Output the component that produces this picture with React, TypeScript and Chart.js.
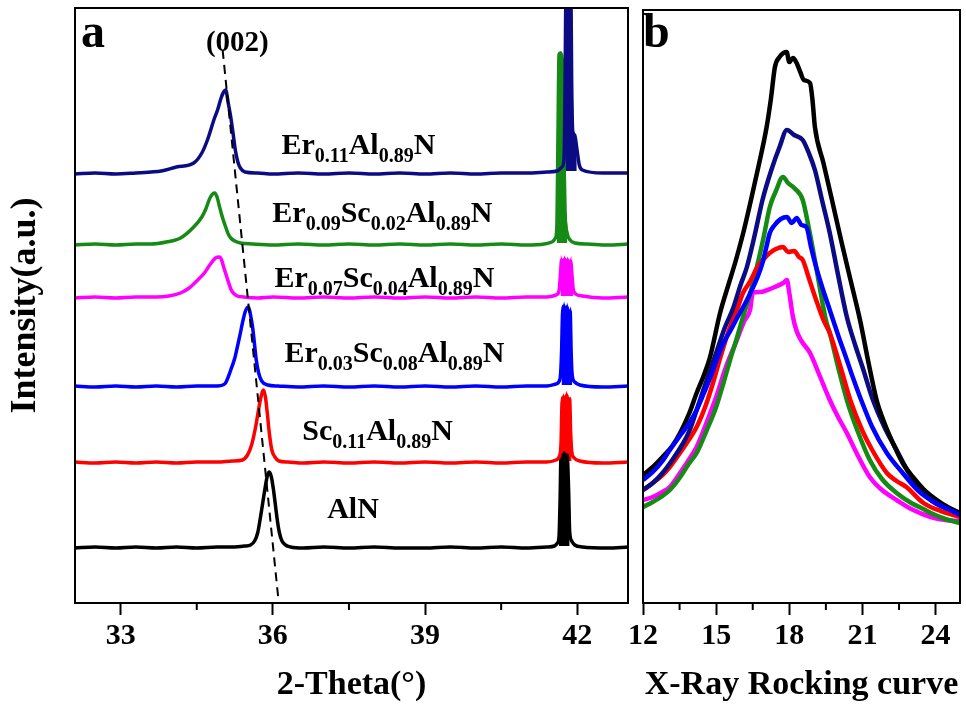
import React, { useEffect, useRef } from "react";
import { Chart, registerables } from "chart.js";
Chart.register(...registerables);

const SERIF = "'Liberation Serif', 'Times New Roman', Times, serif";

// ---------- Panel a : XRD 2-theta scans (stacked, a.u.) ----------
const xrdRange = [32.1, 43.0];
const xrdMajorTicks = [33, 36, 39, 42];
const xrdMinorTicks = [34.5, 37.5, 40.5];

const alnXrd = [[32.1,55],[32.5,56],[32.9,55],[33.3,56],[33.7,55],[34.1,56],[34.5,55],[34.9,56],[35.2,56],[35.45,57],[35.56,58],[35.64,62],[35.7,70],[35.75,84],[35.8,100],[35.85,116],[35.89,127],[35.93,131],[35.97,126],[36.01,114],[36.05,98],[36.09,82],[36.13,70],[36.18,62],[36.25,58],[36.35,56],[36.6,55],[37.0,56],[37.5,55],[38.0,56],[38.5,55],[39.0,55],[39.5,56],[40.0,55],[40.5,56],[41.0,55],[41.4,56],[41.55,57],[41.61,60],[41.64,66],[41.66,100],[41.68,148],[41.71,140],[41.74,150],[41.77,142],[41.8,148],[41.83,112],[41.85,72],[41.89,62],[41.95,58],[42.1,56],[42.6,55],[43.0,56]];
const scAlnXrd = [[32.1,141],[32.5,140],[32.9,141],[33.3,140],[33.7,141],[34.1,140],[34.5,141],[34.9,141],[35.2,142],[35.4,143],[35.5,148],[35.58,158],[35.66,176],[35.72,194],[35.77,207],[35.81,213],[35.85,207],[35.89,190],[35.93,170],[35.98,153],[36.04,146],[36.12,142],[36.3,141],[36.6,140],[37.0,141],[37.5,140],[38.0,141],[38.5,140],[39.0,141],[39.5,140],[40.0,141],[40.5,140],[41.0,141],[41.4,141],[41.58,143],[41.65,147],[41.68,160],[41.7,200],[41.73,206],[41.76,200],[41.79,208],[41.82,202],[41.85,204],[41.87,170],[41.89,152],[41.94,145],[42.05,142],[42.5,140],[43.0,141]];
const er03Xrd = [[32.1,217],[32.5,216],[32.9,217],[33.3,216],[33.7,217],[34.1,216],[34.5,217],[34.9,217],[35.05,219],[35.17,233],[35.25,245],[35.3,256],[35.36,270],[35.4,280],[35.46,292],[35.52,296],[35.56,288],[35.6,276],[35.64,258],[35.67,244],[35.72,230],[35.78,222],[35.9,218],[36.1,217],[36.5,216],[37.0,217],[37.5,216],[38.0,217],[38.5,216],[39.0,217],[39.5,216],[40.0,217],[40.5,216],[41.0,217],[41.4,217],[41.58,219],[41.66,224],[41.69,250],[41.71,290],[41.74,297],[41.77,290],[41.8,296],[41.83,288],[41.86,292],[41.88,250],[41.9,228],[41.95,221],[42.05,218],[42.5,216],[43.0,217]];
const er07Xrd = [[32.1,305],[32.5,306],[32.9,305],[33.3,306],[33.7,306],[33.95,307],[34.18,310],[34.35,315],[34.52,323],[34.65,330],[34.73,336],[34.8,341],[34.87,345],[34.95,346],[34.99,343],[35.03,336],[35.08,328],[35.13,320],[35.18,313],[35.22,310],[35.3,307],[35.42,306],[35.7,305],[36.0,306],[36.5,305],[37.0,306],[37.5,305],[38.0,306],[38.5,305],[39.0,306],[39.5,305],[40.0,306],[40.5,305],[41.0,306],[41.4,306],[41.58,308],[41.64,312],[41.67,330],[41.69,343],[41.72,338],[41.75,344],[41.78,338],[41.81,343],[41.84,337],[41.87,342],[41.9,325],[41.92,314],[41.97,309],[42.1,307],[42.5,305],[43.0,306]];
const er09Xrd = [[32.1,358],[32.5,359],[32.9,358],[33.3,359],[33.6,359],[33.9,361],[34.18,365],[34.44,376],[34.6,386],[34.67,393],[34.77,406],[34.85,410],[34.9,406],[34.95,396],[35.01,385],[35.07,376],[35.12,369],[35.17,365],[35.25,362],[35.36,360],[35.6,359],[36.0,358],[36.5,359],[37.0,358],[37.5,359],[38.0,358],[38.5,359],[39.0,358],[39.5,359],[40.0,358],[40.5,359],[41.0,358],[41.35,359],[41.5,361],[41.57,365],[41.6,380],[41.62,470],[41.64,548],[41.67,550],[41.7,545],[41.72,520],[41.74,440],[41.76,390],[41.8,370],[41.86,363],[41.95,360],[42.2,359],[42.6,358],[43.0,359]];
const er11Xrd = [[32.1,429],[32.5,430],[32.9,429],[33.3,430],[33.6,431],[33.8,432],[34.1,436],[34.44,440],[34.6,450],[34.71,463],[34.85,485],[34.91,493],[34.98,505],[35.03,511],[35.07,513],[35.12,500],[35.17,486],[35.22,468],[35.26,453],[35.31,441],[35.36,435],[35.45,431],[35.7,430],[36.0,429],[36.5,430],[37.0,429],[37.5,430],[38.0,429],[38.5,430],[39.0,429],[39.5,430],[40.0,429],[40.5,430],[41.0,430],[41.4,431],[41.6,432],[41.7,436],[41.74,445],[41.76,520],[41.78,640],[41.81,660],[41.84,650],[41.87,640],[41.89,520],[41.91,472],[41.95,468],[41.99,455],[42.04,438],[42.1,433],[42.5,430],[43.0,430]];

const xrdSeries = [er11Xrd, er09Xrd, er07Xrd, er03Xrd, scAlnXrd, alnXrd];
const xrdBaselines = [430, 358, 305, 216, 140, 55];
const sampleColors = ["#0b0b84", "#158a15", "#ff00ff", "#0000ff", "#ff0000", "#000000"];

// dashed guide through the (002) peaks
const guideX = [35.01, 36.11];
const guideY = [553, 3];

const xrdLabels = [
  { x: 36.17, y: 449, parts: [["Er", 0], ["0.11", 1], ["Al", 0], ["0.89", 1], ["N", 0]] },
  { x: 35.99, y: 381, parts: [["Er", 0], ["0.09", 1], ["Sc", 0], ["0.02", 1], ["Al", 0], ["0.89", 1], ["N", 0]] },
  { x: 36.03, y: 316, parts: [["Er", 0], ["0.07", 1], ["Sc", 0], ["0.04", 1], ["Al", 0], ["0.89", 1], ["N", 0]] },
  { x: 36.23, y: 241, parts: [["Er", 0], ["0.03", 1], ["Sc", 0], ["0.08", 1], ["Al", 0], ["0.89", 1], ["N", 0]] },
  { x: 36.58, y: 163, parts: [["Sc", 0], ["0.11", 1], ["Al", 0], ["0.89", 1], ["N", 0]] },
  { x: 37.07, y: 85, parts: [["AlN", 0]] },
];
const peakLabel = { x: 35.3, y: 552, text: "(002)" };

// ---------- Panel b : X-ray rocking curves ----------
const rockRange = [12, 25];
const rockMajorTicks = [12, 15, 18, 21, 24];
const rockMinorTicks = [13.5, 16.5, 19.5, 22.5];

const rockBlack = [[12.0,128],[12.4,136],[12.8,146],[13.2,157],[13.52,170],[13.9,190],[14.2,210],[14.5,228],[14.75,246],[15.16,290],[15.5,318],[15.8,342],[16.11,370],[16.4,400],[16.73,436],[17.07,476],[17.25,505],[17.41,536],[17.6,546],[17.89,551],[18.0,541],[18.15,545],[18.3,540],[18.45,531],[18.6,523],[18.85,520],[18.95,503],[19.05,476],[19.4,440],[19.75,403],[20.15,360],[20.54,320],[20.9,283],[21.25,240],[21.58,203],[21.9,180],[22.25,160],[22.65,140],[23.07,126],[23.5,114],[24.05,103],[24.5,96],[25.0,90]];
const rockNavy = [[12.0,113],[12.4,120],[12.8,130],[13.2,143],[13.6,158],[13.9,172],[14.2,193],[14.6,222],[15.0,250],[15.35,275],[15.7,295],[16.0,318],[16.26,336],[16.6,370],[16.9,403],[17.25,432],[17.6,456],[17.9,473],[18.2,468],[18.55,463],[18.8,450],[19.05,433],[19.35,402],[19.66,370],[20.0,328],[20.36,286],[20.7,258],[21.0,236],[21.4,205],[21.9,176],[22.4,153],[22.9,130],[23.3,116],[23.8,103],[24.3,96],[25.0,90]];
const rockGreen = [[12.0,96],[12.4,101],[12.8,107],[13.1,113],[13.5,125],[13.9,140],[14.2,150],[14.6,172],[15.0,196],[15.3,220],[15.57,243],[15.85,265],[16.1,286],[16.4,310],[16.67,336],[16.95,366],[17.2,396],[17.45,412],[17.74,426],[17.95,420],[18.2,415],[18.55,403],[18.8,375],[19.1,336],[19.5,283],[19.66,270],[20.0,236],[20.36,203],[20.8,172],[21.3,143],[21.8,124],[22.4,110],[23.0,100],[23.5,94],[23.8,90],[24.4,84],[25.0,80]];
const rockBlue = [[12.0,123],[12.4,131],[12.8,142],[13.1,153],[13.6,170],[13.9,180],[14.2,193],[14.5,210],[14.8,228],[15.05,245],[15.3,260],[15.6,273],[15.9,287],[16.2,300],[16.5,315],[16.7,326],[16.9,340],[17.05,355],[17.2,370],[17.4,378],[17.65,384],[17.9,386],[18.1,380],[18.3,385],[18.5,378],[18.7,376],[18.9,355],[19.1,336],[19.4,312],[19.66,293],[20.0,268],[20.36,243],[20.6,226],[20.9,206],[21.4,176],[22.0,150],[22.65,130],[23.3,112],[24.0,100],[24.5,94],[25.0,88]];
const rockRed = [[12.0,113],[12.4,120],[12.8,128],[13.1,136],[13.6,153],[13.9,164],[14.2,176],[14.55,196],[14.87,220],[15.2,248],[15.57,276],[15.85,293],[16.1,310],[16.4,322],[16.67,335],[16.95,344],[17.2,350],[17.45,354],[17.74,356],[17.95,351],[18.2,352],[18.4,346],[18.55,343],[18.8,325],[19.1,303],[19.4,283],[19.66,270],[20.1,236],[20.5,203],[21.0,172],[21.4,153],[22.0,130],[22.4,122],[22.8,116],[23.5,100],[24.2,92],[25.0,86]];
const rockMagenta = [[12.0,103],[12.4,106],[12.8,111],[13.1,116],[13.6,133],[13.9,144],[14.2,156],[14.6,180],[15.0,206],[15.4,236],[15.85,263],[16.15,282],[16.39,293],[16.5,310],[16.8,311],[17.1,313],[17.4,316],[17.75,320],[17.9,323],[18.0,310],[18.15,286],[18.3,272],[18.5,262],[18.85,250],[19.2,230],[19.66,203],[20.0,186],[20.36,170],[20.8,148],[21.3,126],[21.8,113],[22.4,103],[23.0,94],[23.8,86],[24.4,83],[25.0,82]];

const rockSeries = [rockBlue, rockBlack, rockNavy, rockRed, rockGreen, rockMagenta];
const rockColors = ["#0000ff", "#000000", "#0b0b84", "#ff0000", "#158a15", "#ff00ff"];

const toXY = (pts: number[][]) => pts.map(([x, y]) => ({ x, y }));

const framePlugin = {
  id: "frame",
  afterDraw(chart: any, _args: any, opts: any) {
    const { ctx, chartArea, scales } = chart;
    const { left, top, right, bottom } = chartArea;
    ctx.save();
    ctx.strokeStyle = "#000";
    ctx.lineWidth = 2;
    ctx.strokeRect(left, top, right - left, bottom - top);
    ctx.beginPath();
    for (const v of opts.minor || []) {
      const px = scales.x.getPixelForValue(v);
      ctx.moveTo(px, bottom);
      ctx.lineTo(px, bottom + 7);
    }
    ctx.stroke();
    ctx.fillStyle = "#000";
    ctx.textBaseline = "alphabetic";
    ctx.textAlign = "left";
    ctx.font = `bold 48px ${SERIF}`;
    ctx.fillText(opts.letter, left + opts.letterDx, top + opts.letterDy);
    if (opts.labels) {
      for (const lab of opts.labels) {
        let cx = scales.x.getPixelForValue(lab.x);
        const cy = scales.y.getPixelForValue(lab.y);
        for (const [t, sub] of lab.parts) {
          ctx.font = sub ? `bold 20px ${SERIF}` : `bold 30px ${SERIF}`;
          ctx.fillText(t, cx, cy + (sub ? 8 : 0));
          cx += ctx.measureText(t).width;
        }
      }
    }
    if (opts.peak) {
      ctx.font = `bold 29px ${SERIF}`;
      ctx.textAlign = "center";
      ctx.fillText(opts.peak.text, scales.x.getPixelForValue(opts.peak.x), scales.y.getPixelForValue(opts.peak.y));
    }
    ctx.restore();
  },
};

const tickFont = { family: SERIF, size: 30, weight: "bold" as const };
const titleFont = { family: SERIF, size: 34, weight: "bold" as const };

function xAxis(range: number[], major: number[], title: string) {
  return {
    type: "linear" as const,
    min: range[0],
    max: range[1],
    afterBuildTicks: (s: any) => { s.ticks = major.map((v) => ({ value: v })); },
    afterFit: (s: any) => { s.height = 103; },
    grid: { display: true, drawOnChartArea: false, drawTicks: true, tickLength: 12, tickWidth: 2, tickColor: "#000" },
    border: { display: true, color: "#000", width: 2 },
    ticks: { color: "#000", font: tickFont, padding: 3, maxRotation: 0, autoSkip: false, callback: (v: any) => String(v) },
    title: { display: true, text: title, color: "#000", font: titleFont, padding: { top: 0, bottom: 0 } },
  };
}

export default function App() {
  const refA = useRef<HTMLCanvasElement>(null);
  const refB = useRef<HTMLCanvasElement>(null);

  useEffect(() => {
    const dsA: any[] = [
      {
        data: guideX.map((x, i) => ({ x, y: guideY[i] })),
        borderColor: "#000", borderWidth: 2, borderDash: [9, 6], pointRadius: 0, fill: false,
      },
    ];
    xrdSeries.forEach((s, i) => {
      dsA.push({ data: toXY(s), borderColor: sampleColors[i], borderWidth: 3.5, pointRadius: 0, fill: false, cubicInterpolationMode: "monotone" });
    });
    xrdSeries.forEach((s, i) => {
      const base = xrdBaselines[i];
      dsA.push({
        data: toXY(s.filter((p) => p[0] > 41.5 && p[1] > base + 8)),
        borderColor: sampleColors[i], backgroundColor: sampleColors[i], borderWidth: 2, pointRadius: 0,
        fill: { value: base + 2 }, tension: 0,
      });
    });

    const chartA = new Chart(refA.current!, {
      type: "line",
      data: { datasets: dsA },
      options: {
        responsive: false,
        animation: false,
        layout: { padding: { left: 0, right: 12, top: 8, bottom: 0 } },
        plugins: {
          legend: { display: false },
          tooltip: { enabled: false },
          frame: { minor: xrdMinorTicks, letter: "a", letterDx: 6, letterDy: 39, labels: xrdLabels, peak: peakLabel },
        } as any,
        scales: {
          x: xAxis(xrdRange, xrdMajorTicks, "2-Theta(°)"),
          y: {
            type: "linear", min: 0, max: 595,
            afterFit: (s: any) => { s.width = 75; },
            ticks: { display: false },
            grid: { display: false },
            border: { display: true, color: "#000", width: 2 },
            title: { display: true, text: "Intensity(a.u.)", color: "#000", font: { family: SERIF, size: 36, weight: "bold" }, padding: { top: 4, bottom: 0 } },
          },
        },
      } as any,
      plugins: [framePlugin],
    });

    const dsB = rockSeries.map((s, i) => ({
      data: toXY(s), borderColor: rockColors[i], borderWidth: 4.5, pointRadius: 0, fill: false, cubicInterpolationMode: "monotone",
    }));
    const chartB = new Chart(refB.current!, {
      type: "line",
      data: { datasets: dsB },
      options: {
        responsive: false,
        animation: false,
        layout: { padding: { left: 43, right: 6, top: 10, bottom: 0 } },
        plugins: {
          legend: { display: false },
          tooltip: { enabled: false },
          frame: { minor: rockMinorTicks, letter: "b", letterDx: 0, letterDy: 37 },
        } as any,
        scales: {
          x: xAxis(rockRange, rockMajorTicks, "X-Ray Rocking curve"),
          y: { type: "linear", display: false, min: 0, max: 593 },
        },
      } as any,
      plugins: [framePlugin],
    });

    return () => { chartA.destroy(); chartB.destroy(); };
  }, []);

  return (
    <div style={{ position: "fixed", left: 0, top: 0, width: 966, height: 706, background: "#fff" }}>
      <canvas ref={refA} width={640} height={706} style={{ position: "absolute", left: 0, top: 0, width: 640, height: 706 }} />
      <canvas ref={refB} width={366} height={706} style={{ position: "absolute", left: 600, top: 0, width: 366, height: 706 }} />
    </div>
  );
}
